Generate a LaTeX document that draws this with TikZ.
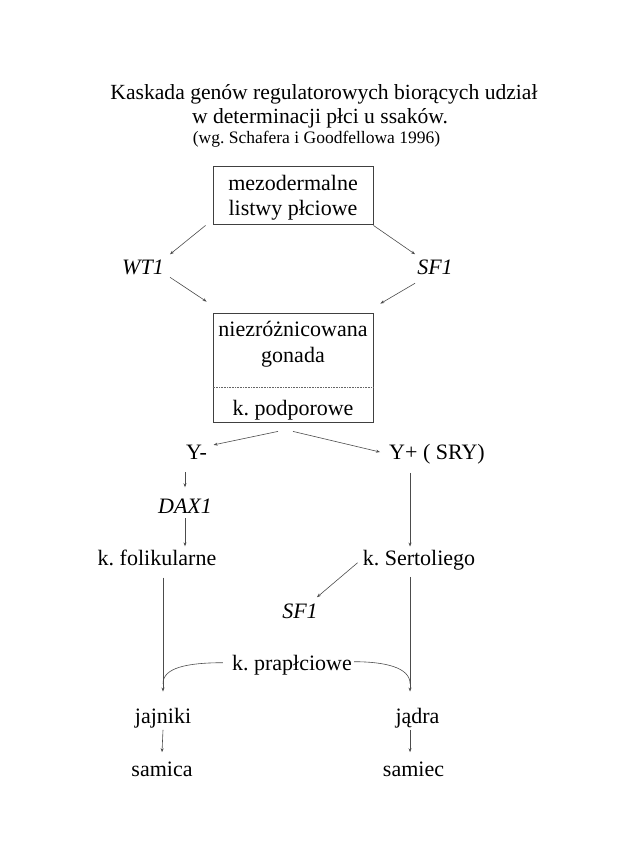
\documentclass[tikz,border=0pt]{standalone}
\usepackage{fontspec}
\setmainfont{Liberation Serif}
\usetikzlibrary{arrows.meta,calc}
\tikzset{
  txt/.style={inner sep=0pt, anchor=base, font=\fontsize{22}{26}\selectfont},
  gene/.style={txt, font=\fontsize{22}{26}\selectfont\itshape},
  ttl/.style={txt, font=\fontsize{21.6}{26}\selectfont},
  boxnode/.style={draw=black!75, line width=0.8pt, inner sep=0pt},
  conn/.style={draw=black!70, line width=0.6pt},
  arr/.style={conn, -{Stealth[length=4pt,width=3pt]}},
  dotline/.style={draw=black!60, line width=0.6pt, densely dotted}
}
\begin{document}
\frenchspacing
\begin{tikzpicture}[x=1pt,y=-1pt]
\useasboundingbox (0,0) rectangle (620,852);
% title
\node[ttl] (t1) at (324,99) {Kaskada genów regulatorowych biorących udział};
\node[ttl] (t2) at (320,123) {w determinacji płci u ssaków.};
\node[txt, font=\fontsize{17.5}{20}\selectfont] (t3) at (316.5,143) {(wg. Schafera i Goodfellowa 1996)};
% top box
\node[boxnode, minimum width=160pt, minimum height=58pt] (m) at (293,195) {};
\node[txt] (m1) at (293,190) {mezodermalne};
\node[txt] (m2) at (293,215) {listwy płciowe};
\node[gene] (wt) at (143,274) {WT1};
\node[gene] (sf) at (435,274) {SF1};
% gonad box
\node[boxnode, minimum width=160pt, minimum height=109pt] (g) at (293,367.5) {};
\node[txt] (g1) at (293,336) {niezróżnicowana};
\node[txt] (g2) at (293,362) {gonada};
\node[txt] (kp) at (293,415) {k. podporowe};
\draw[dotline] ($(g.west)+(0,19.5)$) -- ($(g.east)+(0,19.5)$);
% lower nodes
\node[txt] (ym) at (196.5,459) {Y-};
\node[txt] (yp) at (437,459) {Y+ ( SRY)};
\node[gene] (dax) at (185,513) {DAX1};
\node[txt] (fol) at (157,565) {k. folikularne};
\node[txt] (ser) at (419,565) {k. Sertoliego};
\node[gene] (sf2) at (300,618) {SF1};
\node[txt] (pra) at (292,670) {k. prapłciowe};
\node[txt] (jaj) at (163,723) {jajniki};
\node[txt] (jad) at (417.5,723) {jądra};
\node[txt] (sam) at (162,776) {samica};
\node[txt] (sac) at (413.5,776) {samiec};
% connectors
\draw[arr] ($(m.south west)+(-7,1)$) -- ($(wt.north east)+(6,-5)$);
\draw[arr] ($(m.south east)+(0,1)$) -- ($(sf.north west)+(-2,-5)$);
\draw[arr] ($(wt.north east)+(6,18)$) -- ($(g.north west)+(-6,-11)$);
\draw[arr] ($(sf.north west)+(-2,24)$) -- ($(g.north east)+(7,-9)$);
\draw[arr] ($(g.south)+(-15,9)$) -- ($(ym.north east)+(6.5,0.5)$);
\draw[arr] ($(g.south)+(0,9)$) -- ($(yp.north west)+(-9,8.5)$);
\draw[arr] ($(dax.north |- ym.south)+(0,13)$) -- ($(dax.north)+(0,-11)$);
\draw[arr] ($(dax.south)+(0,5)$) -- ($(dax.south |- fol.north)+(0,-3)$);
\draw[arr] ($(yp.south west)+(21,9)$) -- ($(yp.south west |- ser.north)+(21,-3)$);
\draw[arr] ($(ser.west)+(-5,3)$) -- ($(sf2.north east)+(-1,-6)$);
\draw[arr] ($(jaj.north |- fol.south)+(0,12)$) -- ($(jaj.north)+(0,-16)$);
\draw[arr] ($(yp.south west |- ser.south)+(21,7)$) -- ($(yp.south west |- jad.north)+(21,-16)$);
\draw[conn] ($(pra.west)+(-9,-2)$) .. controls ($(pra.west)+(-44,-2)$) and ($(jaj.north)+(0,-40)$) .. ($(jaj.north)+(0,-24)$);
\draw[conn] ($(pra.east)+(2,-3)$) .. controls ($(pra.east)+(33,-3)$) and ($(yp.south west |- jad.north)+(21,-40)$) .. ($(yp.south west |- jad.north)+(21,-24)$);
\draw[arr] ($(jaj.south)+(0,2)$) -- ($(sam.north)+(0,-9)$);
\draw[arr] ($(yp.south west |- jad.south)+(21,2)$) -- ($(yp.south west |- sac.north)+(21,-9)$);
\end{tikzpicture}
\end{document}
